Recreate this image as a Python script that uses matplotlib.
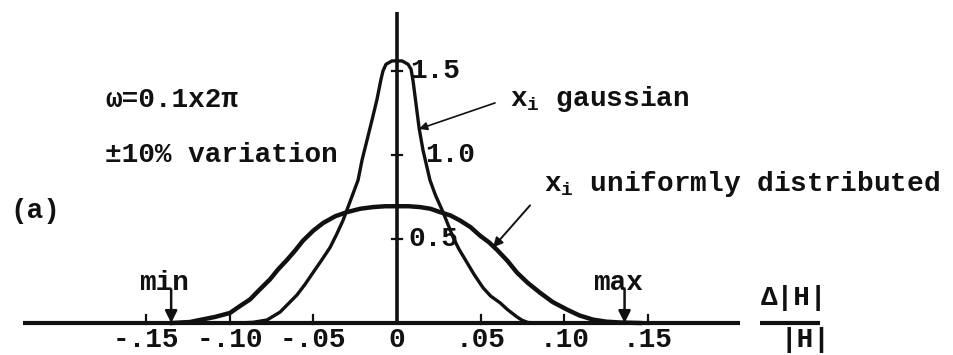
import matplotlib
matplotlib.use("Agg")
import matplotlib.pyplot as plt

plt.rcParams['font.family'] = ['Liberation Mono', 'DejaVu Sans Mono']
plt.rcParams['mathtext.default'] = 'regular'

# Probability density of the relative deviation  Δ|H| / |H|
# (ω = 0.1×2π, ±10 % parameter variation)
dev_gauss = [-0.095, -0.0861, -0.0777, -0.0699, -0.0598, -0.055, -0.0502,
             -0.045, -0.0400, -0.036, -0.0323, -0.0263, -0.0233, -0.0209,
             -0.0179, -0.0149, -0.0120, -0.0096, -0.0084, -0.0066, -0.003,
             0.003, 0.0066, 0.0084, 0.0096, 0.0114, 0.0132, 0.0155,
             0.0197, 0.023, 0.0275, 0.0305, 0.0335, 0.037, 0.0418,
             0.046, 0.0514, 0.056, 0.0616, 0.066, 0.0717, 0.075,
             0.0783, 0.083]
pdf_gauss = [0.0, 0.004, 0.018, 0.065, 0.167, 0.23, 0.30,
             0.375, 0.45, 0.53, 0.61, 0.77, 0.85, 0.97,
             1.09, 1.21, 1.33, 1.45, 1.50, 1.54, 1.56,
             1.56, 1.54, 1.51, 1.44, 1.30, 1.16, 1.03,
             0.85, 0.76, 0.66, 0.585, 0.51, 0.44, 0.36,
             0.29, 0.21, 0.16, 0.12, 0.08, 0.036, 0.015,
             0.003, 0.0]

dev_unif = [-0.1345, -0.1237, -0.1178, -0.1088, -0.0998, -0.094, -0.0879,
            -0.082, -0.0759, -0.071, -0.0658, -0.061, -0.0562, -0.050,
            -0.0442, -0.037, -0.0299, -0.022, -0.0143, -0.007, 0.0,
            0.007, 0.0137, 0.020, 0.0257, 0.032, 0.0377, 0.044,
            0.0496, 0.055, 0.0598, 0.066, 0.0717, 0.078, 0.0855,
            0.093, 0.1016, 0.109, 0.1172, 0.125, 0.1333, 0.1452]
pdf_unif = [0.0, 0.006, 0.018, 0.036, 0.06, 0.10, 0.14,
            0.20, 0.26, 0.32, 0.375, 0.43, 0.49, 0.55,
            0.595, 0.635, 0.66, 0.68, 0.69, 0.695, 0.695,
            0.695, 0.69, 0.68, 0.66, 0.64, 0.61, 0.57,
            0.52, 0.48, 0.435, 0.37, 0.30, 0.24, 0.18,
            0.125, 0.08, 0.045, 0.02, 0.008, 0.003, 0.0]

x_ticks = [-0.15, -0.10, -0.05, 0.0, 0.05, 0.10, 0.15]
x_tick_labels = ["-.15", "-.10", "-.05", "0", ".05", ".10", ".15"]
y_ticks = [0.5, 1.0, 1.5]
y_tick_labels = ["0.5", "1.0", "1.5"]
range_limits = [-0.135, 0.136]
range_labels = ["min", "max"]

INK = "#111111"
FS = 20

fig = plt.figure(figsize=(9.54, 3.55), dpi=100)
ax = fig.add_axes([0, 0, 1, 1])
ax.set_xlim(-0.2373, 0.3329)
ax.set_ylim(-0.1905, 1.9226)
ax.axis('off')

# hand-drawn style axes
ax.plot([-0.2236, 0.205], [0, 0], color=INK, lw=3.0, solid_capstyle='butt')
ax.plot([0, 0], [-0.01, 1.851], color=INK, lw=2.6, solid_capstyle='butt')

for t, lab in zip(x_ticks, x_tick_labels):
    if t != 0:
        ax.plot([t, t], [-0.005, 0.05], color=INK, lw=1.6)
    ax.text(t, -0.101, lab, ha='center', va='center', fontsize=FS,
            fontweight='bold', color=INK)

ytl_offsets = [0.007, 0.017, 0.008]
for t, lab, off in zip(y_ticks, y_tick_labels, ytl_offsets):
    ax.plot([-0.003, 0.003], [t, t], color=INK, lw=1.6)
    ax.text(off, t, lab, ha='left', va='center', fontsize=FS,
            fontweight='bold', color=INK)

# distribution curves
ax.plot(dev_gauss, pdf_gauss, color=INK, lw=2.4, solid_joinstyle='round')
ax.plot(dev_unif, pdf_unif, color=INK, lw=3.2, solid_joinstyle='round')

# min / max markers of the deviation range
for x, lab in zip(range_limits, range_labels):
    ax.annotate("", xy=(x, 0.0), xytext=(x, 0.20),
                arrowprops=dict(arrowstyle='-|>', color=INK, lw=1.8,
                                mutation_scale=18, shrinkA=0, shrinkB=0))
    ax.text(x - 0.004, 0.238, lab, ha='center', va='center', fontsize=FS,
            fontweight='bold', color=INK)

# curve labels with leader arrows
ax.text(0.0675, 1.333, "x$_i$ gaussian", ha='left', va='center',
        fontsize=FS, fontweight='bold', color=INK)
ax.annotate("", xy=(0.0131, 1.155), xytext=(0.0586, 1.31),
            arrowprops=dict(arrowstyle='-|>', color=INK, lw=1.2,
                            mutation_scale=12, shrinkA=0, shrinkB=0))
ax.text(0.0879, 0.827, "x$_i$ uniformly distributed", ha='left',
        va='center', fontsize=FS, fontweight='bold', color=INK)
ax.annotate("", xy=(0.0574, 0.45), xytext=(0.0795, 0.70),
            arrowprops=dict(arrowstyle='-|>', color=INK, lw=1.4,
                            mutation_scale=14, shrinkA=0, shrinkB=0))

# parameters and panel tag
ax.text(-0.1745, 1.327, "ω=0.1x2π", ha='left', va='center', fontsize=FS,
        fontweight='bold', color=INK)
ax.text(-0.1745, 1.0, "±10% variation", ha='left', va='center', fontsize=FS,
        fontweight='bold', color=INK)
ax.text(-0.2313, 0.667, "(a)", ha='left', va='center', fontsize=FS,
        fontweight='bold', color=INK)

# axis quantity  Δ|H| / |H|
ax.text(0.2373, 0.149, "Δ|H|", ha='center', va='center', fontsize=FS,
        fontweight='bold', color=INK)
ax.plot([0.217, 0.253], [0, 0], color=INK, lw=3.0, solid_capstyle='butt')
ax.text(0.244, -0.101, "|H|", ha='center', va='center', fontsize=FS,
        fontweight='bold', color=INK)

fig.savefig("out.png", dpi=100)
